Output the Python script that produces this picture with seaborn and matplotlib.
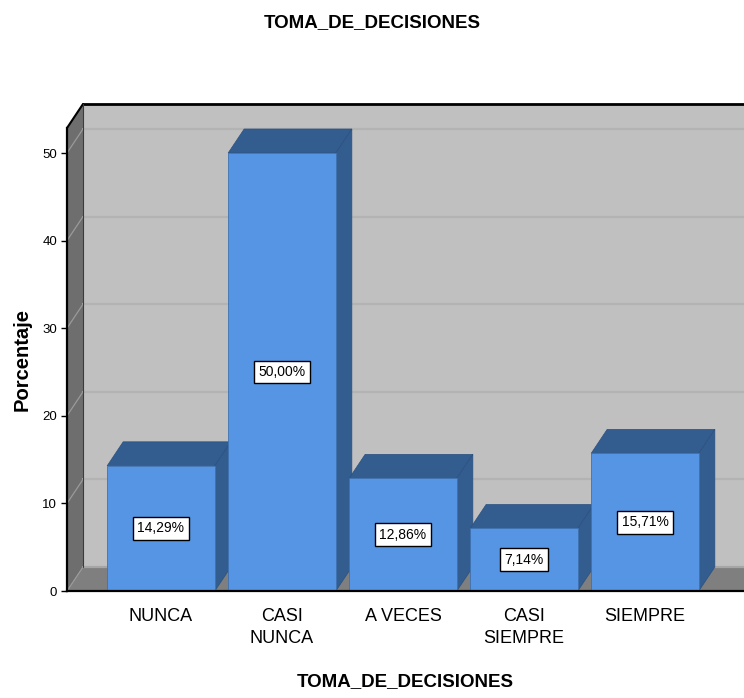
import numpy as np
import pandas as pd
import matplotlib
matplotlib.use("Agg")
import matplotlib.pyplot as plt
import matplotlib.transforms as mtransforms
from matplotlib.patches import Polygon
from matplotlib import font_manager as fm
import seaborn as sns

# ---- data ----
categorias = ["NUNCA", "CASI\nNUNCA", "A VECES", "CASI\nSIEMPRE", "SIEMPRE"]
porcentajes = [14.29, 50.00, 12.86, 7.14, 15.71]
etiquetas = ["14,29%", "50,00%", "12,86%", "7,14%", "15,71%"]
yticks = [0, 10, 20, 30, 40, 50]
titulo = "TOMA_DE_DECISIONES"
ylabel = "Porcentaje"

# ---- style ----
sns.set_theme(style="white")


def has_font(name):
    try:
        fm.findfont(fm.FontProperties(family=name), fallback_to_default=False)
        return True
    except Exception:
        return False


NARROW = "Liberation Sans Narrow" if has_font("Liberation Sans Narrow") else "Liberation Sans"
REG = "Liberation Sans"
plt.rcParams["font.family"] = [REG, "DejaVu Sans"]
plt.rcParams["text.color"] = "black"
plt.rcParams["axes.labelcolor"] = "black"
plt.rcParams["xtick.color"] = "black"
plt.rcParams["ytick.color"] = "black"

FRONT = "#5595e3"
SIDE = "#335c8f"
WALL_BACK = "#c0c0c0"
WALL_LEFT = "#6e6e6e"
FLOOR = "#7f7f7f"
GRID_BACK = "#b3b3b3"
GRID_LEFT = "#9a9a9a"
DX, DY = 16, 24  # depth offset in pixels

W, H = 744, 698
fig = plt.figure(figsize=(W / 100, H / 100), dpi=100)
fig.patch.set_facecolor("white")

left_px, right_px, bot_px, top_px = 67, 744, 591, 128
ax = fig.add_axes([left_px / W, (H - bot_px) / H,
                   (right_px - left_px) / W, (bot_px - top_px) / H])
ax.set_facecolor("none")

df = pd.DataFrame({"categoria": categorias, "porcentaje": porcentajes})
BAR_W = 0.89
sns.barplot(data=df, x="categoria", y="porcentaje", color=FRONT, saturation=1,
            width=BAR_W, edgecolor="#3f72b0", linewidth=0.6, zorder=5, ax=ax)

ymax = (bot_px - top_px) / 8.76
x0 = -(161 - left_px) / 121
x1 = 4 + (right_px - 645) / 121
ax.set_xlim(x0, x1)
ax.set_ylim(0, ymax)

ident = mtransforms.IdentityTransform()


def px(x, y, back=False):
    X, Y = ax.transData.transform((x, y))
    if back:
        X += DX
        Y += DY
    return (X, Y)


def poly(verts, color, z, ec="none", lw=0):
    p = Polygon(verts, closed=True, facecolor=color, edgecolor=ec, linewidth=lw,
                transform=ident, clip_on=False, zorder=z)
    ax.add_patch(p)


def seg(a, b, color, lw, z):
    ax.add_line(plt.Line2D([a[0], b[0]], [a[1], b[1]], color=color, lw=lw,
                           transform=ident, clip_on=False, zorder=z))


xfar = x1 + 1
# back wall
poly([px(x0, 0, True), px(xfar, 0, True), px(xfar, ymax, True), px(x0, ymax, True)], WALL_BACK, 0.5)
# left wall
poly([px(x0, 0), px(x0, 0, True), px(x0, ymax, True), px(x0, ymax)], WALL_LEFT, 0.5)
# floor
poly([px(x0, 0), px(xfar, 0), px(xfar, 0, True), px(x0, 0, True)], FLOOR, 0.6)

# grid lines on both walls
for v in yticks:
    seg(px(x0, v, True), px(xfar, v, True), GRID_BACK if v else "#a6a6a6", 1.6, 0.7)
    seg(px(x0, v), px(x0, v, True), GRID_LEFT, 0.9, 0.7)

# wall edges
seg(px(x0, ymax, True), px(xfar, ymax, True), "black", 2.0, 0.8)
seg(px(x0, ymax), px(x0, ymax, True), "black", 1.5, 0.8)
seg(px(x0, 0, True), px(x0, ymax, True), "#3c3c3c", 0.8, 0.8)

# depth faces of the bars (top + right side)
for i, v in enumerate(porcentajes):
    l, r = i - BAR_W / 2, i + BAR_W / 2
    poly([px(l, v), px(r, v), px(r, v, True), px(l, v, True)], SIDE, 2, ec="#2c5180", lw=0.5)
    poly([px(r, 0), px(r, 0, True), px(r, v, True), px(r, v)], SIDE, 2, ec="#2c5180", lw=0.5)

# value labels
for i, (v, t) in enumerate(zip(porcentajes, etiquetas)):
    ax.text(i, v / 2, t, ha="center", va="center", fontsize=10, family=[NARROW, "DejaVu Sans"],
            color="black", zorder=7,
            bbox=dict(boxstyle="square,pad=0.32", fc="white", ec="black", lw=1.0))

# axes
for s in ["top", "right"]:
    ax.spines[s].set_visible(False)
for s in ["left", "bottom"]:
    ax.spines[s].set_color("black")
    ax.spines[s].set_linewidth(1.6)
    ax.spines[s].set_zorder(6)
ax.set_yticks(yticks)
ax.set_yticklabels([str(t) for t in yticks], family=[NARROW, "DejaVu Sans"], fontsize=9.5)
ax.tick_params(axis="y", direction="out", length=4, width=1, color="black", pad=3, left=True)
ax.set_xticks(range(len(categorias)))
ax.set_xticklabels(categorias, family=[NARROW, "DejaVu Sans"], fontsize=13,
                   linespacing=1.4)
ax.tick_params(axis="x", length=0, pad=12)

ax.set_xlabel(titulo, fontsize=13.5, fontweight="bold", labelpad=19)
ax.set_ylabel(ylabel, fontsize=14.5, fontweight="bold", labelpad=8)
fig.text(0.5, 1 - 23 / H, titulo, ha="center", va="center", fontsize=13.5, fontweight="bold")

fig.savefig("out.png", dpi=100, facecolor="white")
